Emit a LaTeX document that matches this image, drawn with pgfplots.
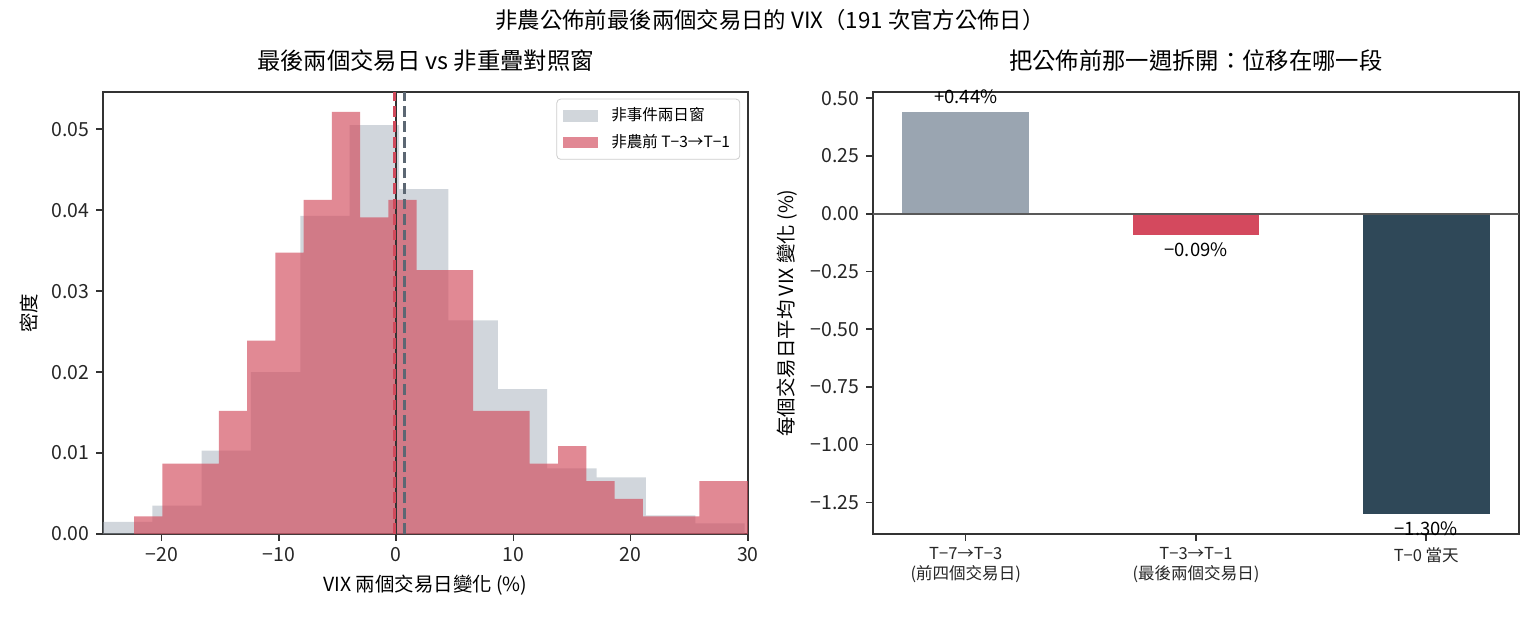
\documentclass[border=0pt]{standalone}
\usepackage{fontspec}
\setmainfont{Noto Sans CJK TC}
\usepackage{pgfplots}
\pgfplotsset{compat=1.18}

\definecolor{cGray}{HTML}{9AA5B1}
\definecolor{cRed}{HTML}{D1495B}
\definecolor{cRedBar}{HTML}{D4495E}
\definecolor{cDark}{HTML}{2F4858}
\definecolor{cDash}{HTML}{5C6773}
\definecolor{cFrame}{HTML}{333333}

\pgfplotsset{
  mpl/.style={
    scale only axis,
    axis line style={line width=0.9pt, color=cFrame},
    tick align=outside, major tick length=3.5pt,
    tick style={line width=0.8pt, color=cFrame},
    xtick pos=left, ytick pos=left,
    scaled ticks=false,
    tick label style={font=\fontsize{10}{12}\selectfont, text=black!85},
    label style={font=\fontsize{10}{12}\selectfont},
    title style={font=\fontsize{12}{14}\selectfont, yshift=1pt},
  },
  histleg/.style={legend image code/.code={\fill[##1, sharp corners] (0pt,-3pt) rectangle (18pt,3pt);}},
  barlbl/.style={nodes near coords, point meta=explicit symbolic,
    nodes near coords style={font=\fontsize{9.5}{11}\selectfont, inner ysep=4pt, inner xsep=0pt, anchor=#1}},
}

\begin{document}
\begin{tikzpicture}
\path[use as bounding box] (0,0) rectangle (792pt,316.8pt);

\node[font=\fontsize{11.5}{13}\selectfont] at (396pt,306.5pt)
  {非農公佈前最後兩個交易日的 VIX（191 次官方公佈日）};

% left: histograms
\begin{axis}[mpl, histleg,
  at={(52.97pt,42.17pt)}, anchor=south west,
  width=331.7pt, height=227.3pt,
  xmin=-25, xmax=30, ymin=0, ymax=0.0546,
  xtick={-20,-10,0,10,20,30},
  xticklabels={−20,−10,0,10,20,30},
  ytick={0,0.01,0.02,0.03,0.04,0.05},
  yticklabels={0.00,0.01,0.02,0.03,0.04,0.05},
  title={最後兩個交易日 vs 非重疊對照窗},
  xlabel={VIX 兩個交易日變化 (\%)},
  ylabel={密度},
  legend style={at={(0.988,0.985)}, anchor=north east,
    draw=black!20, rounded corners=2pt, fill=white,
    font=\fontsize{8}{10}\selectfont, inner xsep=3pt, inner ysep=2.5pt,
    row sep=1.5pt, /tikz/every odd column/.append style={column sep=5pt}},
  legend cell align=left,
]
\addplot[const plot mark left, fill=cGray, fill opacity=0.45, draw=none]
  coordinates {
  (-25.01,0.0015) (-20.80,0.0035) (-16.59,0.0103) (-12.38,0.0200)
  (-8.17,0.0393) (-3.96,0.0505) (0.25,0.0426) (4.46,0.0264)
  (8.67,0.0179) (12.88,0.0081) (17.09,0.0070) (21.30,0.0023)
  (25.51,0.0013) (29.72,0.0013)} \closedcycle;
\addlegendentry{非事件兩日窗}
\addplot[const plot mark left, fill=cRed, fill opacity=0.65, draw=none]
  coordinates {
  (-22.35,0.00217) (-19.94,0.00869) (-17.53,0.00869) (-15.12,0.01521)
  (-12.71,0.02390) (-10.30,0.03476) (-7.89,0.04128) (-5.48,0.05214)
  (-3.07,0.03911) (-0.66,0.04128) (1.75,0.03259) (4.16,0.03259)
  (6.57,0.01521) (8.98,0.01521) (11.39,0.00869) (13.80,0.01086)
  (16.21,0.00652) (18.62,0.00435) (21.03,0.00217) (23.44,0.00217)
  (25.85,0.00652) (28.26,0.00652) (30.67,0.00652)} \closedcycle;
\addlegendentry{非農前 T−3→T−1}
\addplot[forget plot, draw=cFrame, line width=0.9pt] coordinates {(0,0) (0,0.0546)};
\addplot[forget plot, draw=cRed, line width=1.5pt, dash pattern=on 5.55pt off 2.4pt]
  coordinates {(-0.15,0) (-0.15,0.0546)};
\addplot[forget plot, draw=cDash, line width=1.5pt, dash pattern=on 5.55pt off 2.4pt]
  coordinates {(0.71,0) (0.71,0.0546)};
\end{axis}

% right: bars
\begin{axis}[mpl,
  at={(448.97pt,42.17pt)}, anchor=south west,
  width=332.2pt, height=227.3pt,
  xmin=-0.4025, xmax=2.4025, ymin=-1.387, ymax=0.527,
  xtick={0,1,2},
  xticklabels={{T−7→T−3\\(前四個交易日)},{T−3→T−1\\(最後兩個交易日)},{T−0 當天}},
  xticklabel style={align=center, font=\fontsize{8.5}{10}\selectfont},
  ytick={-1.25,-1,-0.75,-0.5,-0.25,0,0.25,0.5},
  yticklabels={−1.25,−1.00,−0.75,−0.50,−0.25,0.00,0.25,0.50},
  title={把公佈前那一週拆開：位移在哪一段},
  ylabel={每個交易日平均 VIX 變化 (\%)},
]
\addplot[ybar, bar width=0.55, bar shift=0pt, fill=cGray, draw=none, barlbl=south]
  coordinates {(0,0.44) [+0.44\%]};
\addplot[ybar, bar width=0.55, bar shift=0pt, fill=cRedBar, draw=none, barlbl=north]
  coordinates {(1,-0.09) [−0.09\%]};
\addplot[ybar, bar width=0.55, bar shift=0pt, fill=cDark, draw=none, barlbl=north]
  coordinates {(2,-1.30) [−1.30\%]};
\addplot[draw=black!65, line width=0.8pt] coordinates {(-0.4025,0) (2.4025,0)};
\end{axis}
\end{tikzpicture}
\end{document}
